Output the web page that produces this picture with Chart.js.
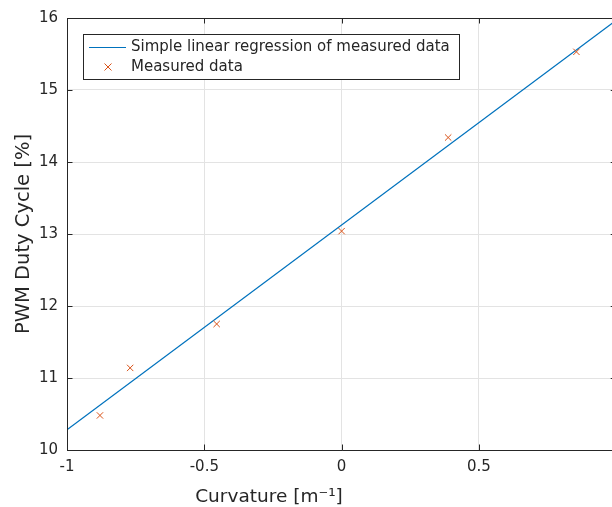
<!DOCTYPE html>
<html>
<head>
<meta charset="utf-8">
<script src="https://cdn.jsdelivr.net/npm/chart.js@4.4.1/dist/chart.umd.min.js"></script>
<style>
html,body{margin:0;padding:0;background:#fff;overflow:hidden;}
#wrap{position:relative;width:629px;height:507px;}
</style>
</head>
<body>
<div id="wrap"><canvas id="c" width="629" height="507"></canvas></div>
<script>
// ---- data ----
const curvature = [-0.88, -0.77, -0.455, 0, 0.388, 0.855];
const dutyCycle = [10.48, 11.14, 11.75, 13.04, 14.34, 15.53];
const fitX = [-1, 1];
const fitY = [10.28, 15.97];
const xTicks = [-1, -0.5, 0, 0.5, 1];
const yTicks = [10, 11, 12, 13, 14, 15, 16];
const seriesLabels = ["Simple linear regression of measured data", "Measured data"];
const xTitle = "Curvature [m\u207B\u00B9]";
const yTitle = "PWM Duty Cycle [%]";

const FONT = "'DejaVu Sans', sans-serif";
const AX = "#262626";
const BLUE = "#0072BD";
const ORANGE = "#D95319";

const framePlugin = {
  id: 'frame',
  afterDraw(chart) {
    const ctx = chart.ctx, a = chart.chartArea;
    const xs = chart.scales.x, ys = chart.scales.y;
    const tl = 5.5;
    ctx.save();
    ctx.strokeStyle = AX;
    ctx.lineWidth = 1;
    // box
    ctx.beginPath();
    ctx.moveTo(a.left + 0.5, a.bottom + 0.5);
    ctx.lineTo(a.left + 0.5, a.top + 0.5);
    ctx.lineTo(a.right + 0.5, a.top + 0.5);
    ctx.lineTo(a.right + 0.5, a.bottom + 0.5);
    ctx.lineTo(a.left + 0.5, a.bottom + 0.5);
    ctx.stroke();
    // inward ticks
    ctx.beginPath();
    xs.ticks.forEach(t => {
      const p = Math.round(xs.getPixelForValue(t.value)) + 0.5;
      ctx.moveTo(p, a.bottom); ctx.lineTo(p, a.bottom - tl);
      ctx.moveTo(p, a.top); ctx.lineTo(p, a.top + tl);
    });
    ys.ticks.forEach(t => {
      const p = Math.round(ys.getPixelForValue(t.value)) + 0.5;
      ctx.moveTo(a.left, p); ctx.lineTo(a.left + tl, p);
      ctx.moveTo(a.right, p); ctx.lineTo(a.right - tl, p);
    });
    ctx.stroke();

    // axis titles
    ctx.fillStyle = AX;
    ctx.font = "18.5px " + FONT;
    ctx.textAlign = 'center';
    ctx.textBaseline = 'middle';
    ctx.fillText(xTitle, 269, 497);
    ctx.font = "19.5px " + FONT;
    ctx.translate(24, (a.top + a.bottom) / 2);
    ctx.rotate(-Math.PI / 2);
    ctx.fillText(yTitle, 0, 0);
    ctx.restore();

    // legend
    ctx.save();
    const lx = 83.5, ly = 34.5, lw = 376, lh = 45;
    ctx.fillStyle = '#fff';
    ctx.fillRect(lx, ly, lw, lh);
    ctx.strokeStyle = AX;
    ctx.lineWidth = 1;
    ctx.strokeRect(lx, ly, lw, lh);
    const r1 = 47, r2 = 67;
    ctx.strokeStyle = BLUE;
    ctx.beginPath(); ctx.moveTo(89, r1 + 0.5); ctx.lineTo(126, r1 + 0.5); ctx.stroke();
    ctx.strokeStyle = ORANGE;
    const cx = 108, cy = r2, s = 3.5;
    ctx.beginPath();
    ctx.moveTo(cx - s, cy - s); ctx.lineTo(cx + s, cy + s);
    ctx.moveTo(cx - s, cy + s); ctx.lineTo(cx + s, cy - s);
    ctx.stroke();
    ctx.fillStyle = AX;
    ctx.font = "15px " + FONT;
    ctx.textAlign = 'left';
    ctx.textBaseline = 'middle';
    ctx.fillText(chart.data.datasets[0].label, 131, r1);
    ctx.fillText(chart.data.datasets[1].label, 131, r2);
    ctx.restore();
  }
};

new Chart(document.getElementById('c'), {
  type: 'scatter',
  data: {
    datasets: [
      {
        type: 'line',
        label: seriesLabels[0],
        data: fitX.map((x, i) => ({x: x, y: fitY[i]})),
        borderColor: BLUE,
        borderWidth: 1.2,
        pointRadius: 0,
        fill: false,
        tension: 0,
        order: 2
      },
      {
        label: seriesLabels[1],
        data: curvature.map((x, i) => ({x: x, y: dutyCycle[i]})),
        pointStyle: 'crossRot',
        pointRadius: 4.5,
        borderColor: ORANGE,
        backgroundColor: ORANGE,
        borderWidth: 1,
        order: 1
      }
    ]
  },
  options: {
    responsive: false,
    animation: false,
    devicePixelRatio: 1,
    layout: {padding: {left: 0, top: 18, right: 6, bottom: 0}},
    plugins: {legend: {display: false}, tooltip: {enabled: false}},
    scales: {
      x: {
        type: 'linear',
        min: -1, max: 1,
        afterBuildTicks: s => { s.ticks = xTicks.map(v => ({value: v})); },
        afterFit: s => { s.height = 57; },
        ticks: {
          color: AX, padding: 8, maxRotation: 0, autoSkip: false,
          font: {family: FONT, size: 15},
          callback: v => String(v)
        },
        grid: {color: '#e3e3e3', drawTicks: false, lineWidth: 1},
        border: {display: false}
      },
      y: {
        type: 'linear',
        min: 10, max: 16,
        afterBuildTicks: s => { s.ticks = yTicks.map(v => ({value: v})); },
        afterFit: s => { s.width = 67; },
        ticks: {
          color: AX, padding: 9, autoSkip: false,
          font: {family: FONT, size: 15},
          callback: v => String(v)
        },
        grid: {color: '#e3e3e3', drawTicks: false, lineWidth: 1},
        border: {display: false}
      }
    }
  },
  plugins: [framePlugin]
});
</script>
</body>
</html>
